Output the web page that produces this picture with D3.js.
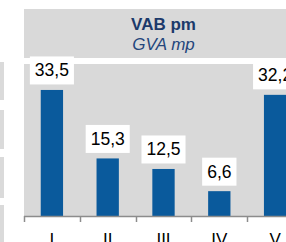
<!DOCTYPE html>
<html>
<head>
<meta charset="utf-8">
<script src="https://cdn.jsdelivr.net/npm/d3@7"></script>
<style>
  html, body { margin: 0; padding: 0; background: #fff; overflow: hidden; }
  svg { display: block; font-family: "Liberation Sans", Arial, sans-serif; }
</style>
</head>
<body>
<div id="chart"></div>
<script>
// data
var categories = ['I', 'II', 'III', 'IV', 'V'];
var values = [33.5, 15.3, 12.5, 6.6, 32.2];
var titleMain = 'VAB pm';
var titleSub = 'GVA mp';

var width = 286, height = 242;
var plot = {left: 24, right: 303, top: 64, bottom: 216};

var svg = d3.select('#chart').append('svg')
  .attr('width', width)
  .attr('height', height);

// left strip remnants (neighbouring table)
[[62, 100], [110, 149], [157, 198], [205, 242]].forEach(function(r) {
  svg.append('rect')
    .attr('x', 0).attr('y', r[0])
    .attr('width', 4).attr('height', r[1] - r[0])
    .attr('fill', '#dadada');
});

var x = d3.scaleBand()
  .domain(categories)
  .range([plot.left, plot.right]);

var y = d3.scaleLinear()
  .domain([0, 40])
  .range([plot.bottom, 65.5]);

// title panel
svg.append('rect')
  .attr('x', plot.left).attr('y', 9)
  .attr('width', plot.right - plot.left).attr('height', 49)
  .attr('fill', '#d9d9d9');

var cx = (plot.left + plot.right) / 2;
svg.append('text')
  .attr('x', cx).attr('y', 29.5)
  .attr('text-anchor', 'middle')
  .style('font-size', '17px')
  .style('font-weight', 'bold')
  .style('fill', '#1c3a6b')
  .text(titleMain);

svg.append('text')
  .attr('x', cx).attr('y', 49.5)
  .attr('text-anchor', 'middle')
  .style('font-size', '17px')
  .style('font-style', 'italic')
  .style('fill', '#24467c')
  .text(titleSub);

// plot background
svg.append('rect')
  .attr('x', plot.left).attr('y', plot.top)
  .attr('width', plot.right - plot.left).attr('height', plot.bottom - plot.top)
  .attr('fill', '#d9d9d9');

var barW = x.bandwidth() * 0.4;
var fmt = function(v) { return d3.format('.1f')(v).replace('.', ','); };

var data = categories.map(function(c, i) { return {cat: c, value: values[i]}; });

svg.selectAll('.bar')
  .data(data)
  .enter().append('rect')
  .attr('class', 'bar')
  .attr('x', function(d) { return x(d.cat) + (x.bandwidth() - barW) / 2; })
  .attr('y', function(d) { return y(d.value); })
  .attr('width', barW)
  .attr('height', function(d) { return y(0) - y(d.value); })
  .attr('fill', '#0a5a9c');

// value labels in white boxes
var lab = svg.selectAll('.lab')
  .data(data)
  .enter().append('g')
  .attr('class', 'lab')
  .attr('transform', function(d) {
    return 'translate(' + (x(d.cat) + x.bandwidth() / 2) + ',' + (y(d.value) - 5.5) + ')';
  });

lab.append('text')
  .attr('text-anchor', 'middle')
  .attr('y', -8)
  .style('font-size', '17.5px')
  .style('fill', '#000')
  .text(function(d) { return fmt(d.value); })
  .each(function() {
    var bb = this.getBBox();
    d3.select(this.parentNode).insert('rect', 'text')
      .attr('x', bb.x - 5)
      .attr('y', -28)
      .attr('width', bb.width + 10)
      .attr('height', 28)
      .attr('fill', '#fff');
  });

// axis
svg.append('line')
  .attr('x1', plot.left).attr('x2', plot.right)
  .attr('y1', plot.bottom + 0.5).attr('y2', plot.bottom + 0.5)
  .attr('stroke', '#8c8c8c')
  .attr('stroke-width', 1.5);

var edges = categories.map(function(c) { return x(c); }).concat([x.range()[1]]);
svg.selectAll('.tick-mark')
  .data(edges)
  .enter().append('line')
  .attr('class', 'tick-mark')
  .attr('x1', function(d) { return Math.round(d) + 0.5; })
  .attr('x2', function(d) { return Math.round(d) + 0.5; })
  .attr('y1', plot.bottom)
  .attr('y2', plot.bottom + 6)
  .attr('stroke', '#8c8c8c')
  .attr('stroke-width', 1.5);

svg.selectAll('.cat')
  .data(categories)
  .enter().append('text')
  .attr('class', 'cat')
  .attr('x', function(d) { return x(d) + x.bandwidth() / 2; })
  .attr('y', 245)
  .attr('text-anchor', 'middle')
  .style('font-size', '17px')
  .style('fill', '#000')
  .text(function(d) { return d; });
</script>
</body>
</html>
